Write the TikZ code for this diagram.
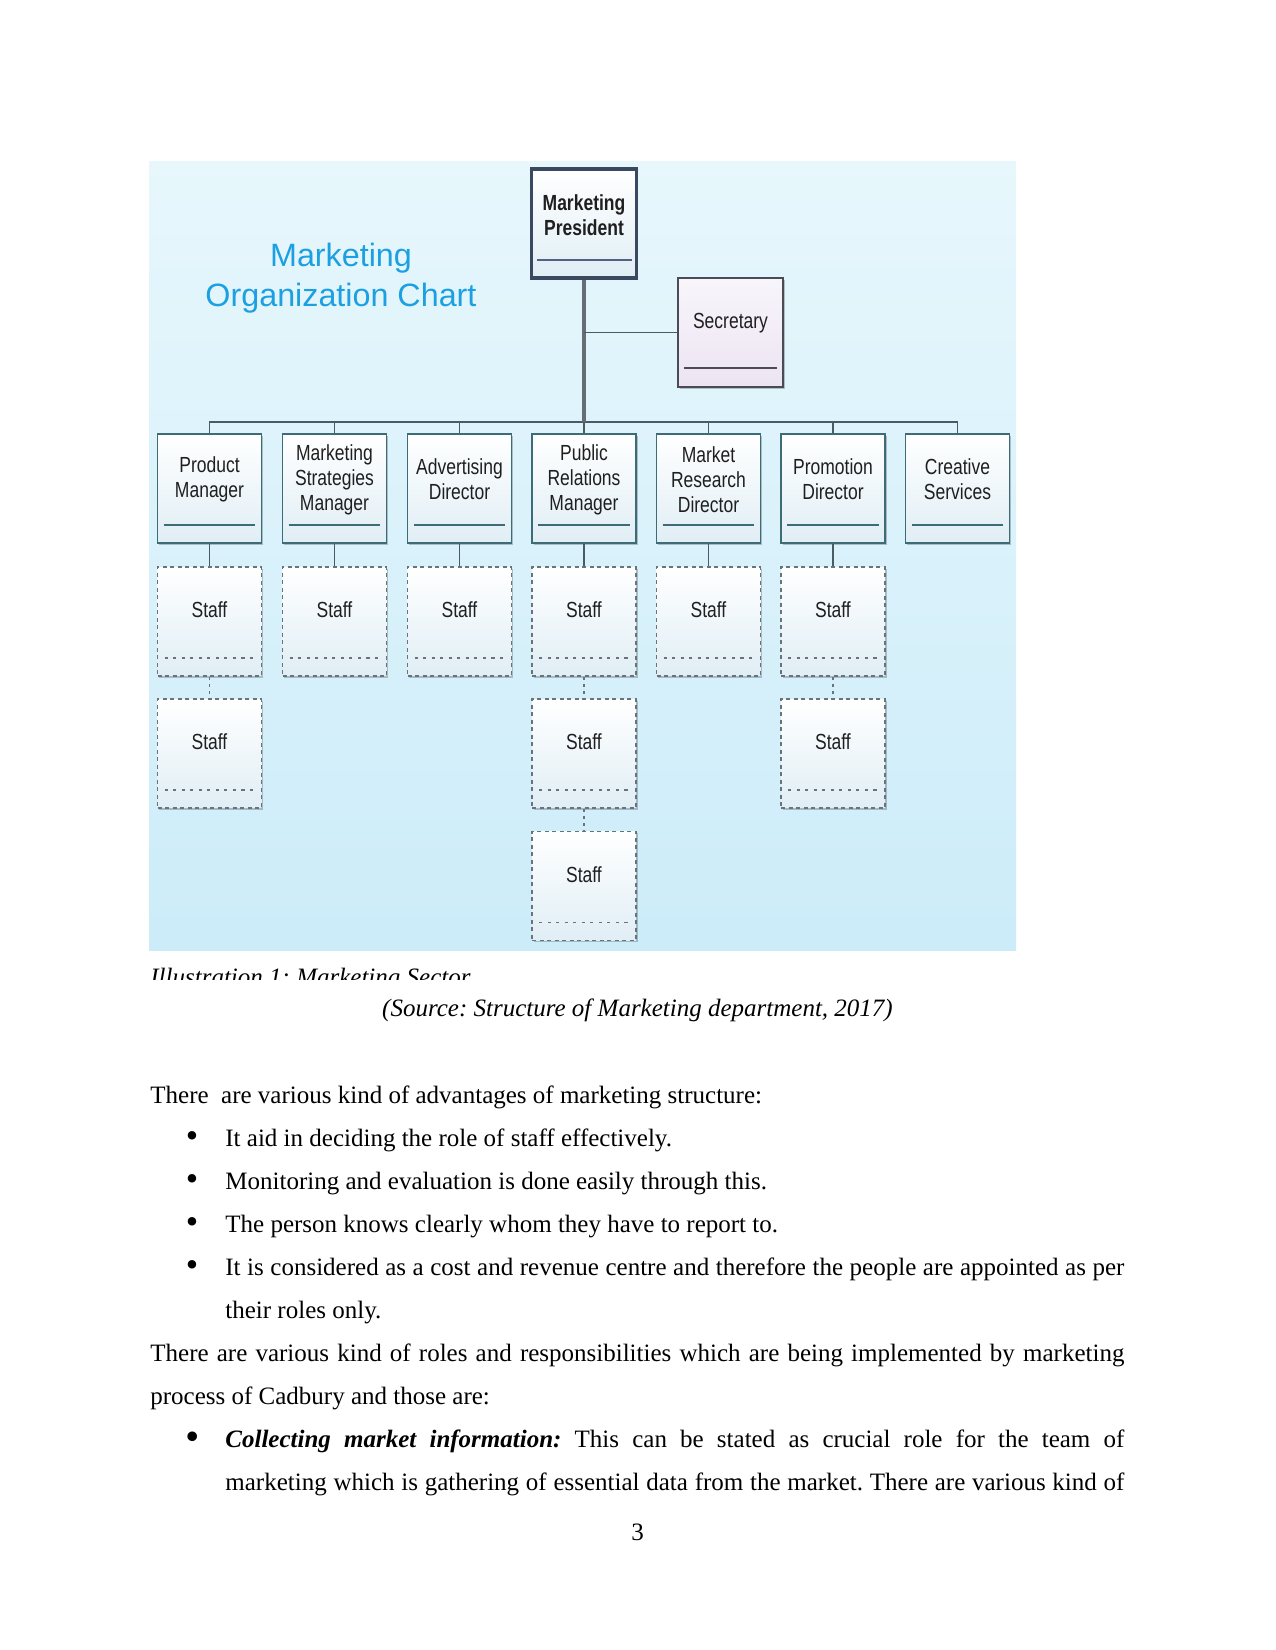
\documentclass[tikz,border=0pt]{standalone}
\usepackage{fontspec}
\setmainfont{Liberation Serif}
\newfontfamily\chartfont[FakeStretch=0.8]{Liberation Sans}
\newfontfamily\titlefont{Liberation Sans}
\usetikzlibrary{shadows,calc}
\frenchspacing

\definecolor{bgtop}{RGB}{231,247,252}
\definecolor{bgbot}{RGB}{204,236,249}
\definecolor{mgrline}{RGB}{62,108,118}
\definecolor{boxbot}{RGB}{224,238,245}
\definecolor{presline}{RGB}{58,72,98}
\definecolor{presin}{RGB}{80,100,130}
\definecolor{secline}{RGB}{75,75,85}
\definecolor{sectop}{RGB}{248,245,251}
\definecolor{secbot}{RGB}{236,228,242}
\definecolor{staffline}{RGB}{105,115,122}
\definecolor{trunkcol}{RGB}{100,110,116}
\definecolor{barcol}{RGB}{72,92,98}
\definecolor{titleblue}{RGB}{28,160,226}

\tikzset{
  cbox/.style={rectangle, inner sep=0pt, minimum width=49.9pt, minimum height=52.3pt,
    drop shadow={shadow xshift=0.9pt, shadow yshift=-0.9pt, fill=black, opacity=0.22}},
  mgrbox/.style={cbox, draw=mgrline, line width=0.9pt, top color=white, bottom color=boxbot,
    path picture={\draw[mgrline, line width=0.6pt]
      ($(path picture bounding box.south west)+(6,-18)$) --
      ($(path picture bounding box.south east)+(-6,-18)$);}},
  presbox/.style={cbox, minimum width=50.4pt, draw=presline, line width=1.5pt, top color=white, bottom color=boxbot,
    path picture={\draw[presin, line width=1.1pt]
      ($(path picture bounding box.south west)+(5,-18)$) --
      ($(path picture bounding box.south east)+(-5,-18)$);}},
  secbox/.style={cbox, minimum width=50.4pt, draw=secline, line width=0.8pt, top color=sectop, bottom color=secbot,
    path picture={\draw[secline, line width=0.6pt]
      ($(path picture bounding box.south west)+(6,-19)$) --
      ($(path picture bounding box.south east)+(-6,-19)$);}},
  staffbox/.style={cbox, draw=staffline, line width=0.6pt, dash pattern=on 2pt off 1.6pt,
    top color=white, bottom color=boxbot,
    path picture={\draw[staffline, line width=0.6pt, dash pattern=on 1.5pt off 2.6pt]
      ($(path picture bounding box.south west)+(7,-18)$) --
      ($(path picture bounding box.south east)+(-7,-18)$);}},
  boxtxt/.style={font=\chartfont\fontsize{10.5}{12}\selectfont, align=center, inner sep=0pt, text=black!88},
  trunk/.style={draw=trunkcol, line width=2.1pt},
  barline/.style={draw=barcol, line width=0.9pt},
  conn/.style={draw=barcol, line width=0.6pt},
  dconn/.style={draw=staffline, line width=0.6pt, dash pattern=on 1.5pt off 2pt},
  body/.style={anchor=base west, inner sep=0pt, font=\fontsize{12}{14}\selectfont},
  bul/.style={anchor=base, inner sep=0pt, font=\fontsize{17}{17}\selectfont},
}

\newcommand\mgrnode[3]{\node[mgrbox] (#1) at (#2,488.5) {}; \node[boxtxt] (#1t) at (#2,479.5) {#3};}
\newcommand\staffnode[3]{\node[staffbox] (#1) at (#2,#3) {}; \node[boxtxt] (#1t) at (#2,#3-11.5) {Staff};}

\begin{document}
\begin{tikzpicture}[x=0.48pt,y=-0.48pt]
\useasboundingbox (0,0) rectangle (1275,1650);
\fill[white] (0,0) rectangle (1275,1650);

% chart background
\fill[top color=bgtop, bottom color=bgbot] (149,162) rectangle (1016,950);

% title
\node[font=\titlefont\fontsize{15.5}{19.2}\selectfont, text=titleblue, align=center, inner sep=0pt]
  (title) at (341,278) {Marketing\\Organization Chart};

% managers
\mgrnode{c1}{209.5}{Product\\Manager}
\mgrnode{c2}{334.5}{Marketing\\Strategies\\Manager}
\mgrnode{c3}{459.5}{Advertising\\Director}
\mgrnode{c4}{584}{Public\\Relations\\Manager}
\mgrnode{c5}{708.5}{Market\\Research\\Director}
\mgrnode{c6}{833}{Promotion\\Director}
\mgrnode{c7}{957.5}{Creative\\Services}

% president and secretary
\node[presbox] (pres) at (584,223.5) {};
\node[boxtxt, font=\chartfont\bfseries\fontsize{10.5}{12}\selectfont] (prest) at (584,215) {Marketing\\President};
\node[secbox] (sec) at (730.5,332.5) {};
\node[boxtxt] (sect) at (730.5,323) {Secretary};

% connectors top
\coordinate (barL) at ($(c1.north)+(0,-11)$);
\draw[barline] (c1.north) -- (barL) -| (c7.north);
\foreach \n in {c2,c3,c4,c5,c6} \draw[conn] (\n.north) -- (\n.north |- barL);
\draw[trunk] (pres.south) -- (pres.south |- barL);
\draw[conn, line width=0.7pt] (sec.west) -- (sec.west -| pres.south);

% staff
\staffnode{s11}{209.5}{621.5}
\staffnode{s12}{209.5}{753.5}
\staffnode{s21}{334.5}{621.5}
\staffnode{s31}{459.5}{621.5}
\staffnode{s41}{584}{621.5}
\staffnode{s42}{584}{753.5}
\staffnode{s43}{584}{886}
\staffnode{s51}{708.5}{621.5}
\staffnode{s61}{833}{621.5}
\staffnode{s62}{833}{753.5}

\draw[conn] (c1.south) -- (s11.north);
\draw[conn] (c2.south) -- (s21.north);
\draw[conn] (c3.south) -- (s31.north);
\draw[conn] (c4.south) -- (s41.north);
\draw[conn] (c5.south) -- (s51.north);
\draw[conn] (c6.south) -- (s61.north);
\draw[dconn] (s11.south) -- (s12.north);
\draw[dconn] (s41.south) -- (s42.north);
\draw[dconn] (s42.south) -- (s43.north);
\draw[dconn] (s61.south) -- (s62.north);

% caption (clipped)
\begin{scope}
  \clip (140,951) rectangle (700,979);
  \node[body] (cap) at (150,985) {\itshape Illustration 1: Marketing Sector};
\end{scope}
\node[anchor=base, inner sep=0pt, font=\fontsize{12}{14}\selectfont] (src) at (637.5,1016)
  {\itshape (Source: Structure of Marketing department, 2017)};

% body text
\node[body] (p1) at (150,1103) {There\ \ are various kind of advantages of marketing structure:};
\node[bul] (b1) at (192,1147) {•};
\node[body] (t1) at (225,1146) {It aid in deciding the role of staff effectively.};
\node[bul] (b2) at (192,1190) {•};
\node[body] (t2) at (225,1189) {Monitoring and evaluation is done easily through this.};
\node[bul] (b3) at (192,1233) {•};
\node[body] (t3) at (225,1232) {The person knows clearly whom they have to report to.};
\node[bul] (b4) at (192,1276) {•};
\node[body] (t4) at (225,1275) {\makebox[431.5pt][s]{It is considered as a cost and revenue centre and therefore the people are appointed as per}};
\node[body] (t4b) at (225,1318) {their roles only.};
\node[body] (p2) at (150,1361) {\makebox[467.5pt][s]{There are various kind of roles and responsibilities which are being implemented by marketing}};
\node[body] (p2b) at (150,1404) {process of Cadbury and those are:};
\node[bul, font=\bfseries\itshape\fontsize{17}{17}\selectfont] (b5) at (192,1448) {•};
\node[body] (t5) at (225,1447) {\makebox[431.5pt][s]{\bfseries\itshape Collecting market information:\mdseries\upshape{} This can be stated as crucial role for the team of}};
\node[body] (t5b) at (225,1490) {\makebox[431.5pt][s]{marketing which is gathering of essential data from the market. There are various kind of}};

\node[anchor=base, inner sep=0pt, font=\fontsize{12}{14}\selectfont] (pg) at (637.5,1540) {3};
\end{tikzpicture}
\end{document}
